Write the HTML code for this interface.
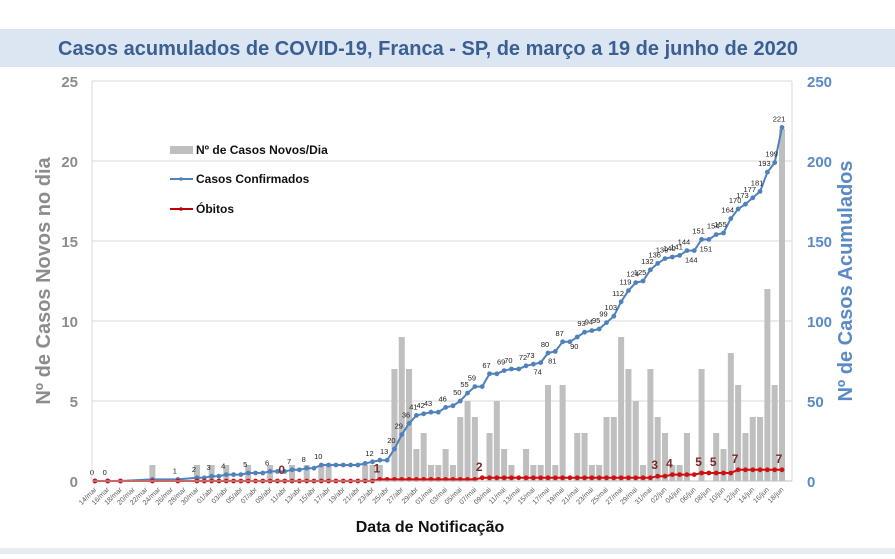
<!DOCTYPE html>
<html><head><meta charset="utf-8">
<style>
html,body{margin:0;padding:0;background:#fff;}
body{width:895px;height:554px;overflow:hidden;font-family:"Liberation Sans",sans-serif;}
</style></head>
<body>
<svg id="chart" width="895" height="554" viewBox="0 0 895 554" xmlns="http://www.w3.org/2000/svg" font-family="Liberation Sans, sans-serif">
  <rect x="0" y="29" width="895" height="38" fill="#dce6f2"/>
  <text x="428" y="55" text-anchor="middle" font-size="20" font-weight="bold" fill="#3a5f93">Casos acumulados de COVID-19, Franca - SP, de março a 19 de junho de 2020</text>
  <rect x="0" y="548" width="895" height="6" fill="#e6ebf2"/>
  <g id="grid"></g>
  <g id="bars"></g>
  <g id="lines"></g>
  <g id="labels"></g>
  <g id="axes"></g>
  <text transform="translate(50,281) rotate(-90)" text-anchor="middle" font-size="20" font-weight="bold" fill="#8c8c8c">Nº de Casos Novos no dia</text>
  <text transform="translate(852,281) rotate(-90)" text-anchor="middle" font-size="20" font-weight="bold" fill="#5a8ac6">Nº de Casos Acumulados</text>
  <text x="430" y="532" text-anchor="middle" font-size="16" font-weight="bold" fill="#111">Data de Notificação</text>
  <g>
    <rect x="170" y="146" width="23" height="8" fill="#bfbfbf"/>
    <text x="196" y="154" font-size="12" font-weight="bold" fill="#111">Nº de Casos Novos/Dia</text>
    <line x1="170" y1="179" x2="193" y2="179" stroke="#4f81bd" stroke-width="2"/>
    <circle cx="181" cy="179" r="1.8" fill="#4f81bd"/>
    <text x="196" y="183" font-size="12" font-weight="bold" fill="#111">Casos Confirmados</text>
    <line x1="170" y1="209" x2="193" y2="209" stroke="#c00000" stroke-width="2"/>
    <circle cx="181" cy="209" r="1.8" fill="#c00000"/>
    <text x="196" y="213" font-size="12" font-weight="bold" fill="#111">Óbitos</text>
  </g>
</svg>
<script>
const newCases = [
0,0,0,0,0,0,0,0,0,1,
0,0,0,0,0,0,1,0,1,0,
1,0,0,1,0,0,1,0,0,1,
0,1,0,1,1,0,0,0,0,1,
1,1,0,7,9,7,2,3,1,1,
2,1,4,5,4,0,3,5,2,1,
0,2,1,1,6,1,6,0,3,3,
1,1,4,4,9,7,5,1,7,4,
3,1,1,3,0,7,0,3,2,8,
6,3,4,4,12,6,22];
const cumulative = [
0,null,0,null,0,null,null,null,null,1,
null,null,null,1,null,null,2,2,3,3,
4,4,4,5,5,5,6,6,6,7,
7,8,8,10,10,10,10,10,10,11,
12,13,13,20,29,36,41,42,43,43,
46,47,50,55,59,59,67,67,69,70,
70,72,73,74,80,81,87,87,90,93,
94,95,99,103,112,119,124,125,132,136,
139,140,141,144,144,151,151,154,155,164,
170,173,177,181,193,199,221];
const deaths = [
0,null,0,null,0,null,null,null,null,0,
null,null,null,0,null,null,0,0,0,0,
0,0,0,0,0,0,0,0,0,0,
0,0,0,0,0,0,0,0,0,0,
0,1,1,1,1,1,1,1,1,1,
1,1,1,1,1,2,2,2,2,2,
2,2,2,2,2,2,2,2,2,2,
2,2,2,2,2,2,2,2,2,3,
3,4,4,4,4,5,5,5,5,5,
7,7,7,7,7,7,7];
const cumLabelDays = [0,2,13,16,18,20,23,26,29,31,33,40,42,43,44,45,46,47,48,50,52,53,54,56,58,59,61,62,63,64,65,66,68,69,70,71,72,73,74,75,76,77,78,79,80,81,82,83,84,85,86,87,88,89,90,91,92,93,94,95,96];
const cumLabelBelowDays = [63,65,68,84,86];
const deathLabelDays = [28,41,55,79,81,85,87,90,96];
const xTickLabels = ["14/mar","16/mar","18/mar","20/mar","22/mar","24/mar","26/mar","28/mar","30/mar",
"01/abr","03/abr","05/abr","07/abr","09/abr","11/abr","13/abr","15/abr","17/abr","19/abr","21/abr","23/abr","25/abr","27/abr","29/abr",
"01/mai","03/mai","05/mai","07/mai","09/mai","11/mai","13/mai","15/mai","17/mai","19/mai","21/mai","23/mai","25/mai","27/mai","29/mai","31/mai",
"02/jun","04/jun","06/jun","08/jun","10/jun","12/jun","14/jun","16/jun","18/jun"];
const leftTicks = [0,5,10,15,20,25];
const rightTicks = [0,50,100,150,200,250];

const NS = "http://www.w3.org/2000/svg";
const PLOT = {left:92, right:792, top:81, bottom:481};
function xPos(d){ return d <= 16 ? 95 + d*6.375 : 197 + (d-16)*7.3125; }
function yL(v){ return PLOT.bottom - (v/25)*(PLOT.bottom-PLOT.top); }
function yR(v){ return PLOT.bottom - (v/250)*(PLOT.bottom-PLOT.top); }
function mk(tag, attrs, parent){
  const e = document.createElementNS(NS, tag);
  for (const k in attrs) e.setAttribute(k, attrs[k]);
  parent.appendChild(e);
  return e;
}
const grid = document.getElementById('grid');
const axes = document.getElementById('axes');
const bars = document.getElementById('bars');
const lines = document.getElementById('lines');
const labels = document.getElementById('labels');

leftTicks.forEach(function(t){
  const g = mk('line',{x1:PLOT.left,x2:PLOT.right,y1:yL(t),y2:yL(t),stroke:'#d9d9d9','stroke-width':1},grid);
  
  
  const tx = mk('text',{x:78,y:yL(t)+6,'text-anchor':'end','font-size':15,'font-weight':'bold',fill:'#8c8c8c'},axes);
  tx.textContent = t;
  
  
});
rightTicks.forEach(function(t){
  const tx = mk('text',{x:807,y:yR(t)+6,'font-size':15,'font-weight':'bold',fill:'#5a8ac6'},axes);
  tx.textContent = t;
  
  
});
const la = mk('line',{x1:PLOT.left,x2:PLOT.left,y1:PLOT.top,y2:PLOT.bottom,stroke:'#d9d9d9'},axes);


const ra = mk('line',{x1:PLOT.right,x2:PLOT.right,y1:PLOT.top,y2:PLOT.bottom,stroke:'#d9d9d9'},axes);


const xa = mk('line',{x1:PLOT.left,x2:PLOT.right,y1:PLOT.bottom,y2:PLOT.bottom,stroke:'#bfbfbf'},axes);



xTickLabels.forEach(function(lab,i){
  const x = xPos(i*2);
  const tx = mk('text',{x:x+2,y:490,'text-anchor':'end','font-size':7,fill:'#595959',transform:'rotate(-45 '+(x+2)+' 490)'},axes);
  tx.textContent = lab;
  
  
});

newCases.forEach(function(v,d){
  if (!v) return;
  const r = mk('rect',{x:xPos(d)-3,y:yL(v),width:6,height:PLOT.bottom-yL(v),fill:'#bfbfbf'},bars);
  
  
});

function drawSeries(arr, color, name){
  let pts = [];
  arr.forEach(function(v,d){ if (v !== null) pts.push([xPos(d), yR(v)]); });
  const p = mk('polyline',{points:pts.map(function(q){return q[0].toFixed(1)+','+q[1].toFixed(1);}).join(' '),fill:'none',stroke:color,'stroke-width':2,'stroke-linejoin':'round'},lines);
  
  
  pts.forEach(function(q){
    const c = mk('circle',{cx:q[0],cy:q[1],r:2.4,fill:color},lines);
    
    
  });
}
drawSeries(cumulative,'#4f81bd','confirmed');
drawSeries(deaths,'#d01010','deaths');

cumLabelDays.forEach(function(d){
  const v = cumulative[d];
  if (v === null) return;
  const below = cumLabelBelowDays.indexOf(d) >= 0;
  const tx = mk('text',{x:xPos(d)-3,y:below ? yR(v)+12 : yR(v)-6,'text-anchor':'middle','font-size':7.5,fill:'#222'},labels);
  tx.textContent = v;
  
  
});
deathLabelDays.forEach(function(d){
  const v = deaths[d];
  const tx = mk('text',{x:xPos(d)-3,y:yR(v)-7,'text-anchor':'middle','font-size':12,'font-weight':'bold',fill:'#7a2a2a'},labels);
  tx.textContent = v;
  
  
});
</script>
</body></html>
